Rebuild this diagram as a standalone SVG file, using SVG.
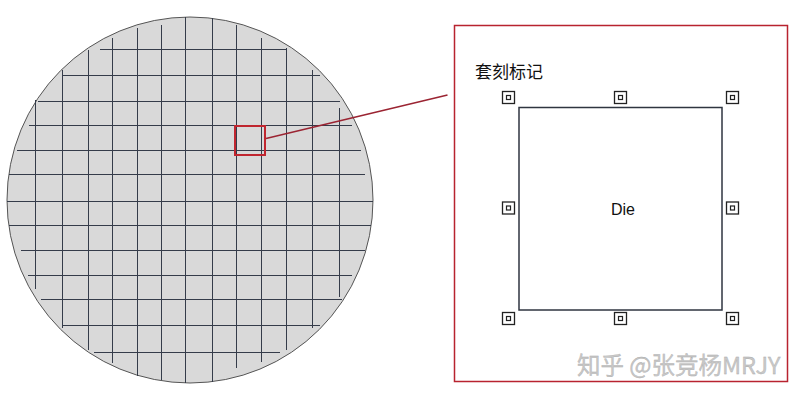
<svg xmlns="http://www.w3.org/2000/svg" width="805" height="400" viewBox="0 0 805 400">
  <style>
    .grid line { stroke: #353c4a; stroke-width: 1; }
    .mark-o { fill: #ffffff; stroke: #222222; stroke-width: 1.3; }
    .mark-i { fill: none; stroke: #222222; stroke-width: 1.2; }
    .label { font-family: "Liberation Sans", "Noto Sans CJK SC", sans-serif; fill: #111111; }
  </style>
  <defs>
    <g id="mark">
      <rect class="mark-o" x="-6" y="-6" width="12" height="12"/>
      <rect class="mark-i" x="-2" y="-2" width="4" height="4"/>
    </g>
  </defs>
  <rect x="0" y="0" width="805" height="400" fill="#ffffff"/>

  <g id="wafer">
    <circle cx="190" cy="200" r="183" fill="#d9d9d9" stroke="#555555" stroke-width="1"/>
    <g class="grid">
      <line x1="100" y1="49.5" x2="287" y2="49.5"/>
      <line x1="62" y1="75.5" x2="320" y2="75.5"/>
      <line x1="38" y1="101.5" x2="340" y2="101.5"/>
      <line x1="29" y1="125.5" x2="352" y2="125.5"/>
      <line x1="17" y1="150.5" x2="361" y2="150.5"/>
      <line x1="9" y1="174.5" x2="365" y2="174.5"/>
      <line x1="7" y1="201.5" x2="373" y2="201.5"/>
      <line x1="9" y1="225.5" x2="371" y2="225.5"/>
      <line x1="21" y1="250.5" x2="365" y2="250.5"/>
      <line x1="28" y1="275.5" x2="352" y2="275.5"/>
      <line x1="41" y1="299.5" x2="342" y2="299.5"/>
      <line x1="62" y1="325.5" x2="320" y2="325.5"/>
      <line x1="94" y1="352.5" x2="280" y2="352.5"/>

      <line x1="35.5" y1="100" x2="35.5" y2="289"/>
      <line x1="62.5" y1="70" x2="62.5" y2="328"/>
      <line x1="88.5" y1="50" x2="88.5" y2="350"/>
      <line x1="112.5" y1="38" x2="112.5" y2="363"/>
      <line x1="137.5" y1="28" x2="137.5" y2="376"/>
      <line x1="161.5" y1="25" x2="161.5" y2="380"/>
      <line x1="185.5" y1="17" x2="185.5" y2="383"/>
      <line x1="212.5" y1="18" x2="212.5" y2="382"/>
      <line x1="236.5" y1="25" x2="236.5" y2="368"/>
      <line x1="261.5" y1="38" x2="261.5" y2="362"/>
      <line x1="286.5" y1="48" x2="286.5" y2="350"/>
      <line x1="312.5" y1="70" x2="312.5" y2="328"/>
      <line x1="339.5" y1="108" x2="339.5" y2="297"/>
    </g>
    <rect id="highlight" x="235" y="126" width="30" height="29" fill="none" stroke="#c0262f" stroke-width="2"/>
  </g>

  <g id="connectors">
    <line x1="266" y1="138.5" x2="447.5" y2="95" stroke="#9b2432" stroke-width="1.5"/>
  </g>

  <g id="zoom-panel">
    <rect x="454.5" y="25.5" width="333" height="356" fill="none" stroke="#b8232f" stroke-width="1.5"/>
  </g>

  <g id="overlay-label">
    <text class="label" x="475" y="78" font-size="17" font-family="Noto Sans CJK SC, sans-serif">套刻标记</text>
  </g>

  <g id="die">
    <rect x="519" y="107.5" width="203" height="202.5" fill="#ffffff" stroke="#2f3540" stroke-width="1.5"/>
    <text class="label" x="623" y="214.5" font-size="16" text-anchor="middle">Die</text>
  </g>

  <g id="marks">
    <use href="#mark" x="508.5" y="97.5"/>
    <use href="#mark" x="620.5" y="97.5"/>
    <use href="#mark" x="732.5" y="97.5"/>
    <use href="#mark" x="508.5" y="208"/>
    <use href="#mark" x="732.5" y="208"/>
    <use href="#mark" x="508.5" y="318.5"/>
    <use href="#mark" x="620.5" y="318.5"/>
    <use href="#mark" x="732.5" y="318.5"/>
  </g>

  <g id="watermark">
    <text x="577" y="374" font-size="23.5" font-family="Noto Sans CJK SC, sans-serif" fill="#c8c8c8" stroke="#a8a8a8" stroke-width="0.3">知乎 @张竞杨MRJY</text>
  </g>
</svg>
